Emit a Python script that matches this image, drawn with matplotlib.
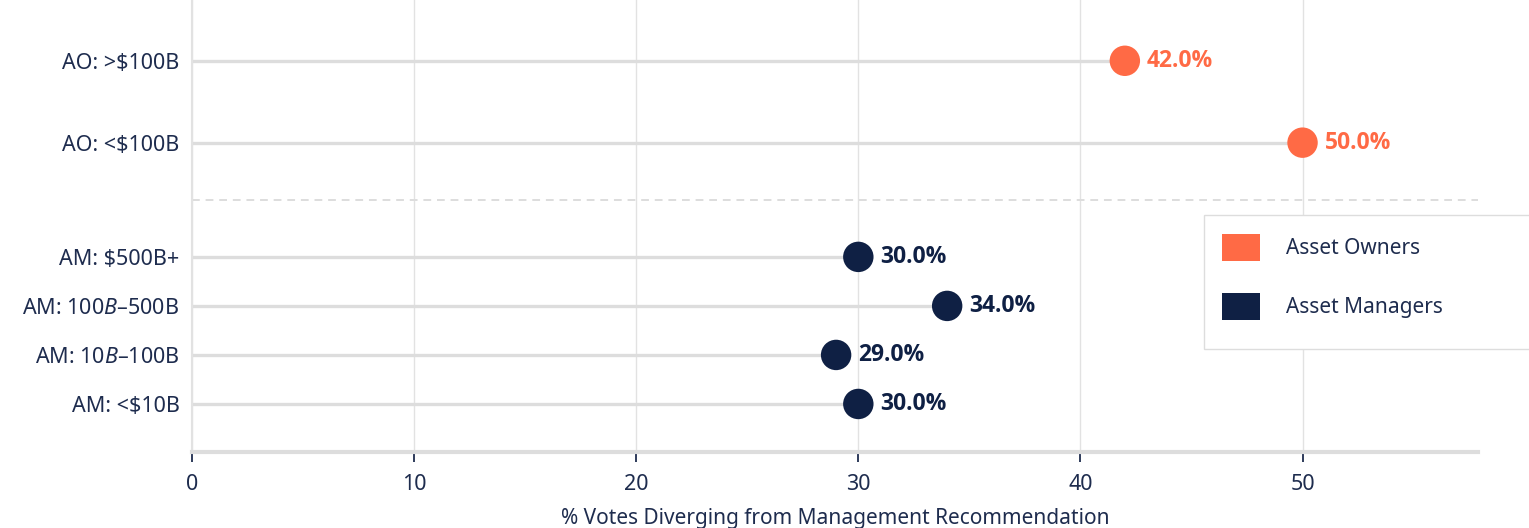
import matplotlib.pyplot as plt
from matplotlib.patches import Patch, Rectangle

plt.rcParams['mathtext.fontset'] = 'custom'
plt.rcParams['mathtext.rm'] = 'Noto Sans'
plt.rcParams['mathtext.it'] = 'Noto Sans:italic'

categories = ['AM: <$10B', 'AM: $10B–$100B', 'AM: $100B–$500B', 'AM: $500B+',
              'AO: <$100B', 'AO: >$100B']
groups = ['Asset Managers', 'Asset Managers', 'Asset Managers', 'Asset Managers',
          'Asset Owners', 'Asset Owners']
values = [30.0, 29.0, 34.0, 30.0, 50.0, 42.0]
xticks = [0, 10, 20, 30, 40, 50]

ypos = [0, 1, 2, 3, 5.33, 7.0]
colors = {'Asset Owners': '#FF6A45', 'Asset Managers': '#0F2044'}
navy_text = '#1E2C4E'
grid_c = '#E2E2E2'

fig = plt.figure(figsize=(15.29, 5.28), dpi=100)
ax = fig.add_axes([192 / 1529, 1 - 452 / 528, (1478 - 192) / 1529, 452 / 528])

# stems
for y, v in zip(ypos, values):
    ax.plot([0, v], [y, y], color='#DDDDDD', lw=2.4, zorder=1, solid_capstyle='butt')

ax.scatter(values, ypos, s=480, c=[colors[g] for g in groups], zorder=3, linewidths=0)

for y, v, g in zip(ypos, values, groups):
    ax.text(v + 1.0, y, f'{v:.1f}%', color=colors[g], fontsize=16.5, fontweight='bold',
            family='Open Sans', va='center', ha='left', zorder=4)

# separator between owners and managers
ax.axhline(4.16, color='#DDDDDD', lw=1.4, ls=(0, (4, 3)), zorder=1)

ax.set_xlim(0, 57.9)
ax.set_ylim(-0.98, 8.24)
ax.set_xticks(xticks)
ax.set_yticks(ypos)
ax.set_yticklabels(categories)
ax.xaxis.grid(True, color=grid_c, lw=1.0, zorder=0)
ax.set_axisbelow(True)

for s in ['top', 'right']:
    ax.spines[s].set_visible(False)
ax.spines['left'].set_color(grid_c)
ax.spines['left'].set_linewidth(1.5)
ax.spines['bottom'].set_color('#DDDDDD')
ax.spines['bottom'].set_linewidth(3)

ax.tick_params(axis='y', length=0, pad=9, labelsize=15.5, labelcolor=navy_text)
ax.tick_params(axis='x', length=7, width=1.3, color=navy_text, pad=8.5,
               labelsize=15.5, labelcolor=navy_text)
for lbl in ax.get_yticklabels() + ax.get_xticklabels():
    lbl.set_family('Noto Sans')

ax.set_xlabel('% Votes Diverging from Management Recommendation', fontsize=15,
              color=navy_text, family='Noto Sans', labelpad=10)

# legend box running off the right edge
fig.patches.append(Rectangle((1204 / 1529, 1 - 349 / 528), 0.3, 134 / 528,
                             transform=fig.transFigure, facecolor='white',
                             edgecolor='#DDDDDD', lw=1.0, zorder=5))
handles = [Patch(facecolor=colors['Asset Owners'], label='Asset Owners'),
           Patch(facecolor=colors['Asset Managers'], label='Asset Managers')]
leg = fig.legend(handles=handles, loc='upper left', frameon=False,
                 bbox_to_anchor=(1222 / 1529, 1 - 234 / 528), borderpad=0,
                 borderaxespad=0,
                 handlelength=1.8, handleheight=1.6, handletextpad=1.25,
                 labelspacing=1.55, prop={'family': 'Noto Sans', 'size': 15})
leg.set_zorder(6)
for t in leg.get_texts():
    t.set_color(navy_text)

fig.savefig('out.png', dpi=100)
